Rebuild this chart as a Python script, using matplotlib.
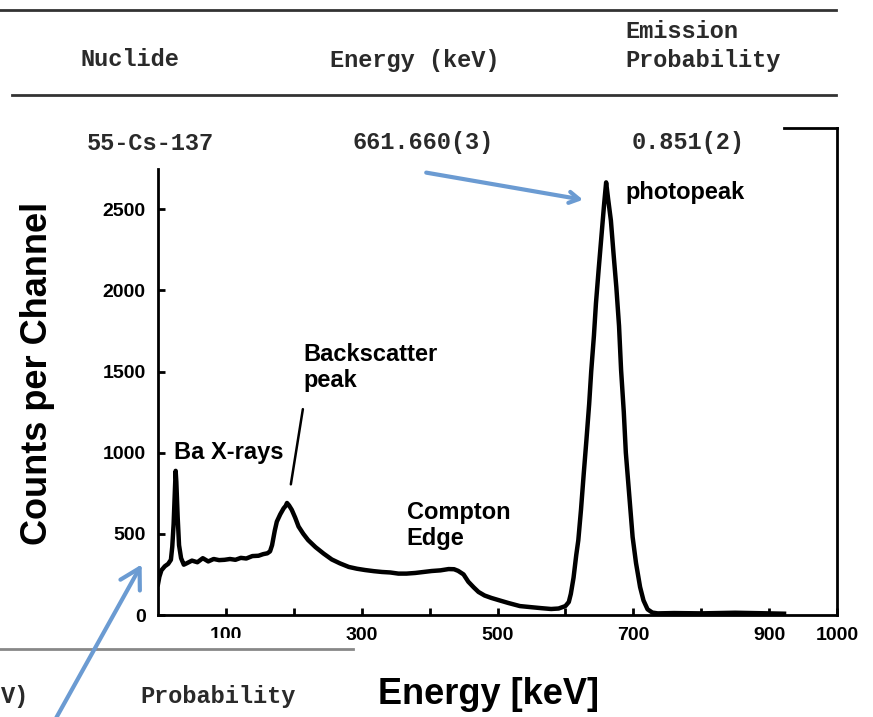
import matplotlib
matplotlib.use("Agg")
import matplotlib.pyplot as plt
from matplotlib.patches import Rectangle, FancyArrowPatch
from matplotlib.lines import Line2D

# spectrum (keV, counts per channel)
energy = [0, 2, 5, 10, 15, 19, 21, 23, 25, 26, 27, 29, 31, 34, 38, 42,
          50, 58, 66, 74, 82, 90, 98, 106, 114, 122, 130, 139, 148, 155, 161,
          165, 168, 172, 175, 180, 185, 188, 190, 193, 197, 202, 207, 214, 221,
          232, 244, 256, 268, 281, 293, 305, 318, 330, 342, 354, 366, 379, 391,
          403, 416, 428, 436, 442, 450, 457, 465, 472, 481, 491, 503, 516, 533,
          550, 565, 579, 590, 600, 605, 608, 612, 616, 619, 623, 627, 631, 635,
          638, 642, 645, 649, 653, 657, 660, 663, 667, 671, 675, 679, 682, 686,
          689, 694, 699, 704, 710, 715, 721, 728, 736, 760, 800, 850, 900, 922]
counts = [190, 235, 275, 300, 315, 340, 420, 560, 780, 888, 820, 600, 430, 350, 310, 318,
          335, 325, 350, 330, 345, 338, 340, 345, 340, 352, 348, 363, 365, 375, 380,
          392, 430, 520, 575, 620, 657, 672, 690, 675, 648, 600, 545, 500, 462,
          418, 378, 342, 318, 296, 285, 277, 270, 265, 262, 255, 255, 259, 265,
          271, 275, 283, 282, 272, 250, 205, 170, 142, 120, 105, 90, 74, 55,
          48, 42, 37, 40, 55, 80, 130, 230, 370, 460, 650, 870, 1080, 1300,
          1500, 1720, 1920, 2130, 2330, 2530, 2665, 2560, 2430, 2220, 2020, 1780, 1510, 1250,
          1000, 740, 480, 320, 172, 90, 35, 15, 10, 12, 10, 14, 10, 8]

y_ticks = [0, 500, 1000, 1500, 2000, 2500]
x_ticks = [100, 200, 300, 400, 500, 600, 700, 800, 900, 1000]
x_labels = ["100", "", "300", "", "500", "", "700", "", "900", "1000"]

# table fragments pasted round the plot
table_head = ["Nuclide", "Energy (keV)", "Emission", "Probability"]
table_row = ["55-Cs-137", "661.660(3)", "0.851(2)"]
lower_frag = ["V)", "Probability"]

W, H = 873, 717
ARROW = "#6b9bd2"
MONO = "Liberation Mono"
SANS = "Liberation Sans"


def fx(x):
    return x / W


def fy(y):
    return 1 - y / H


fig = plt.figure(figsize=(W / 100, H / 100), dpi=100)
ax = fig.add_axes([fx(158), fy(615), fx(837) - fx(158), fy(128) - fy(615)])

ax.plot(energy, counts, color="black", lw=3.2, solid_joinstyle="round")
ax.set_xlim(0, 1000)
ax.set_ylim(0, 3000)

ax.spines["top"].set_bounds(922, 1000)
ax.spines["left"].set_bounds(0, 2750)
for s in ax.spines.values():
    s.set_linewidth(2.0)

ax.set_yticks(y_ticks)
ax.set_xticks(x_ticks)
ax.set_xticklabels(x_labels)
ax.tick_params(direction="in", length=5, width=2)
ax.tick_params(axis="y", pad=9)
ax.tick_params(axis="x", pad=9)
for lab in ax.get_xticklabels() + ax.get_yticklabels():
    lab.set_fontfamily(SANS)
    lab.set_fontweight("bold")
    lab.set_fontsize(14)

# annotations inside the plot
txt = dict(family=SANS, fontweight="bold", fontsize=17)
ax.text(23, 1003, "Ba X-rays", va="center", ha="left", **txt)
ax.text(214, 1525, "Backscatter\npeak", va="center", ha="left", linespacing=1.2, **txt)
ax.annotate("", xy=(195, 788), xytext=(214, 1285),
            arrowprops=dict(arrowstyle="-", lw=1.8, color="black"))
ax.text(366, 552, "Compton\nEdge", va="center", ha="left", linespacing=1.2, **txt)
ax.text(689, 2600, "photopeak", va="center", ha="left", **txt)

# blue arrow to the photopeak
ax.annotate("", xy=(630, 2555), xytext=(391, 2728), annotation_clip=False,
            arrowprops=dict(arrowstyle="->,head_length=0.7,head_width=0.4",
                            lw=3, color=ARROW))

# axis titles
fig.text(fx(38), fy(373), "Counts per Channel", rotation=90, ha="center",
         va="center", family=SANS, fontweight="bold", fontsize=26)
fig.text(fx(488), fy(695), "Energy [keV]", ha="center", va="center",
         family=SANS, fontweight="bold", fontsize=26)

# table header and row
mono = dict(family=MONO, fontsize=17, color="#2a2a2a", fontweight="bold")
fig.text(fx(80), fy(60), table_head[0], va="center", ha="left", **mono)
fig.text(fx(330), fy(60), table_head[1], va="center", ha="left", **mono)
fig.text(fx(625), fy(31), table_head[2], va="center", ha="left", **mono)
fig.text(fx(625), fy(60), table_head[3], va="center", ha="left", **mono)
fig.text(fx(87), fy(143), table_row[0], va="center", ha="left", **mono)
fig.text(fx(352), fy(143), table_row[1], va="center", ha="left", **mono)
fig.text(fx(632), fy(143), table_row[2], va="center", ha="left", **mono)
fig.add_artist(Line2D([fx(0), fx(836)], [fy(10), fy(10)], color="#333333", lw=2))
fig.add_artist(Line2D([fx(12), fx(836)], [fy(95), fy(95)], color="#333333", lw=2))

# pasted strip at the bottom-left covering part of the tick labels
fig.add_artist(Rectangle((0, 0), fx(348), fy(638), transform=fig.transFigure,
                         facecolor="white", edgecolor="none", zorder=5))
fig.add_artist(Line2D([fx(0), fx(353)], [fy(649), fy(649)], color="#888888",
                      lw=2, zorder=6))
fig.text(fx(1), fy(697), lower_frag[0], va="center", ha="left", zorder=6, **mono)
fig.text(fx(140), fy(697), lower_frag[1], va="center", ha="left", zorder=6, **mono)

fig.add_artist(FancyArrowPatch(
    (fx(55), fy(720)), (fx(143), fy(562)), transform=fig.transFigure,
    arrowstyle="->,head_length=7,head_width=4", mutation_scale=2,
    lw=3, color=ARROW, zorder=7))

fig.savefig("out.png", dpi=100)
